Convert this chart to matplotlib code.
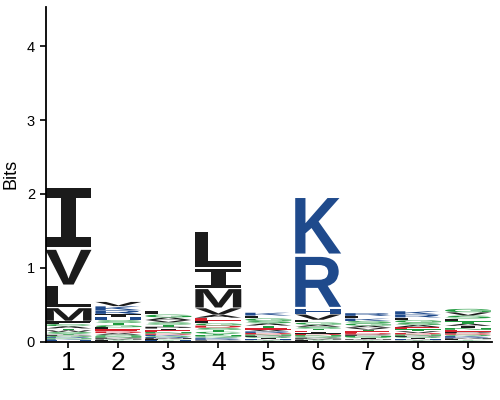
import matplotlib
matplotlib.use("Agg")
import matplotlib.pyplot as plt
from matplotlib.textpath import TextPath
from matplotlib.font_manager import FontProperties
from matplotlib.patches import PathPatch
from matplotlib.transforms import Affine2D

# ---- data (bits per residue, alphabet order) ----
AA = list("ACDEFGHIKLMNPQRSTVWY")
positions = [1, 2, 3, 4, 5, 6, 7, 8, 9]
x_tick_labels = ["1", "2", "3", "4", "5", "6", "7", "8", "9"]
y_ticks = [0, 1, 2, 3, 4]

#          A     C     D     E     F     G     H     I     K     L     M     N     P     Q     R     S     T     V     W     Y
bits_p1 = [0.03, 0.03, 0.006, 0.008, 0.04, 0.015, 0.008, 0.85, 0.01, 0.30, 0.18, 0.01, 0.015, 0.01, 0.011, 0.02, 0.025, 0.50, 0.021, 0.019]
bits_p2 = [0.022, 0.006, 0.024, 0.026, 0.008, 0.03, 0.04, 0.045, 0.055, 0.028, 0.012, 0.018, 0.015, 0.02, 0.05, 0.035, 0.031, 0.06, 0.004, 0.01]
bits_p3 = [0.035, 0.006, 0.018, 0.022, 0.01, 0.04, 0.008, 0.024, 0.016, 0.045, 0.012, 0.02, 0.026, 0.014, 0.013, 0.03, 0.028, 0.032, 0.004, 0.009]
bits_p4 = [0.041, 0.024, 0.03, 0.04, 0.035, 0.03, 0.008, 0.275, 0.016, 0.50, 0.265, 0.02, 0.011, 0.016, 0.013, 0.028, 0.026, 0.09, 0.006, 0.02]
bits_p5 = [0.03, 0.004, 0.02, 0.026, 0.005, 0.035, 0.01, 0.012, 0.04, 0.038, 0.008, 0.018, 0.016, 0.014, 0.022, 0.032, 0.028, 0.024, 0.003, 0.007]
bits_p6 = [0.028, 0.006, 0.02, 0.022, 0.008, 0.03, 0.08, 0.021, 0.80, 0.035, 0.012, 0.018, 0.014, 0.016, 0.72, 0.026, 0.024, 0.075, 0.004, 0.01]
bits_p7 = [0.028, 0.004, 0.02, 0.022, 0.005, 0.03, 0.008, 0.012, 0.034, 0.036, 0.01, 0.016, 0.018, 0.014, 0.038, 0.032, 0.024, 0.026, 0.003, 0.006]
bits_p8 = [0.03, 0.004, 0.02, 0.028, 0.005, 0.034, 0.01, 0.012, 0.045, 0.036, 0.008, 0.018, 0.016, 0.014, 0.04, 0.032, 0.026, 0.024, 0.003, 0.007]
bits_p9 = [0.03, 0.005, 0.02, 0.024, 0.01, 0.048, 0.006, 0.028, 0.016, 0.036, 0.012, 0.026, 0.022, 0.018, 0.014, 0.04, 0.034, 0.044, 0.004, 0.008]
all_bits = [bits_p1, bits_p2, bits_p3, bits_p4, bits_p5, bits_p6, bits_p7, bits_p8, bits_p9]

# ---- colours ----
BLACK, BLUE, GREEN, RED = "#1b1b1b", "#1f4a8c", "#1f9a3e", "#d6202c"
color_of = {}
for a in "AVLIPWFM":
    color_of[a] = BLACK
for a in "KRH":
    color_of[a] = BLUE
for a in "GSTYCNQ":
    color_of[a] = GREEN
for a in "DE":
    color_of[a] = RED

fp = FontProperties(family="Liberation Sans", weight="bold")
fp_serif_I = FontProperties(family="Liberation Mono", weight="bold")
glyph_cache = {}


def glyph(letter):
    if letter not in glyph_cache:
        prop = fp_serif_I if letter == "I" else fp
        glyph_cache[letter] = TextPath((0, 0), letter, prop=prop, size=1)
    return glyph_cache[letter]


fig = plt.figure(figsize=(5, 4), dpi=100)
ax = fig.add_axes([0.091, 0.146, 0.893, 0.836])

WIDTH = 0.92
for pos, bits in zip(positions, all_bits):
    order = sorted(range(len(AA)), key=lambda i: bits[i])
    y0 = 0.0
    for i in order:
        h = bits[i]
        letter = AA[i]
        p = glyph(letter)
        ext = p.get_extents()
        pad = h * 0.03
        hh = h - 2 * pad
        tr = (Affine2D()
              .translate(-ext.x0, -ext.y0)
              .scale(WIDTH / ext.width, hh / ext.height)
              .translate(pos - WIDTH / 2, y0 + pad))
        patch = PathPatch(tr.transform_path(p), facecolor=color_of[letter],
                          edgecolor="none", lw=0)
        ax.add_patch(patch)
        y0 += h

ax.set_xlim(0.54, 9.48)
ax.set_ylim(0, 4.53)
ax.set_xticks(positions)
ax.set_xticklabels(x_tick_labels, fontsize=19, family="Liberation Sans")
ax.set_yticks(y_ticks)
ax.set_yticklabels([str(t) for t in y_ticks], fontsize=10.5, family="Liberation Sans")
ax.set_ylabel("Bits", fontsize=13, family="Liberation Sans", labelpad=5)
for s in ["top", "right"]:
    ax.spines[s].set_visible(False)
for s in ["left", "bottom"]:
    ax.spines[s].set_linewidth(1.3)
ax.tick_params(axis="both", direction="out", length=4, width=1.2)
ax.tick_params(axis="x", pad=3)

fig.savefig("out.png", dpi=100)
